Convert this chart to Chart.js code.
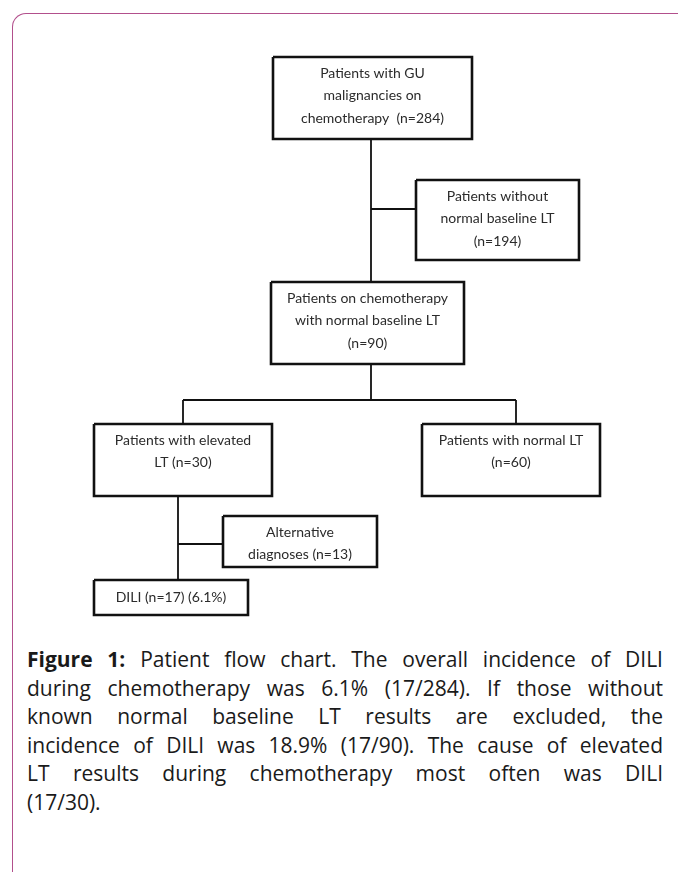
<!DOCTYPE html>
<html>
<head>
<meta charset="utf-8">
<script src="https://cdn.jsdelivr.net/npm/chart.js@4.4.1/dist/chart.umd.min.js"></script>
<style>
  html, body { margin: 0; padding: 0; background: #fff; }
  body { width: 678px; height: 872px; position: relative; overflow: hidden; font-family: "Open Sans", sans-serif; }
  .card { position: absolute; left: 12px; top: 13px; width: 720px; height: 900px;
          border-left: 1.5px solid #b24f8c; border-top: 1.5px solid #b24f8c; border-top-left-radius: 14px; }
  #wrap { position: absolute; left: 0; top: 0; width: 678px; height: 640px; }
  .caption { position: absolute; left: 27px; top: 645px; width: 636px; font-size: 21px; font-stretch: 91%;
             line-height: 28.6px; color: #1a1a1a; }
  .caption div { text-align: justify; text-align-last: justify; white-space: nowrap; }
  .caption div.last { text-align-last: left; }
</style>
</head>
<body>
<div class="card"></div>
<div id="wrap"><canvas id="flow"></canvas></div>
<div class="caption">
  <div><b>Figure 1:</b> Patient flow chart. The overall incidence of DILI</div>
  <div>during chemotherapy was 6.1% (17/284). If those without</div>
  <div>known normal baseline LT results are excluded, the</div>
  <div>incidence of DILI was 18.9% (17/90). The cause of elevated</div>
  <div>LT results during chemotherapy most often was DILI</div>
  <div class="last">(17/30).</div>
</div>
<script>
// node values
const nodeCounts = [284, 194, 90, 30, 60, 13, 17];
const diliShare = '6.1%';
const nodeLines = [
  ['Patients with GU', 'malignancies on', 'chemotherapy  (n=' + nodeCounts[0] + ')'],
  ['Patients without', 'normal baseline LT', '(n=' + nodeCounts[1] + ')'],
  ['Patients on chemotherapy', 'with normal baseline LT', '(n=' + nodeCounts[2] + ')'],
  ['Patients with elevated', 'LT (n=' + nodeCounts[3] + ')'],
  ['Patients with normal LT', '(n=' + nodeCounts[4] + ')'],
  ['Alternative', 'diagnoses (n=' + nodeCounts[5] + ')'],
  ['DILI (n=' + nodeCounts[6] + ') (' + diliShare + ')']
];

// layout: box left, top, right, bottom, first text line, line step
const boxes = [
  [273, 57, 472, 139, 73, 22.5],
  [416, 180, 579, 260, 196, 22.5],
  [271, 282, 464, 364, 298, 22.5],
  [94, 424, 272, 496, 440, 22],
  [422, 424, 600, 496, 440, 22],
  [223, 516, 377, 567, 532, 22],
  [94, 580, 248, 615, 597, 22]
];
const links = [
  [[371, 139], [371, 282]],
  [[371, 209], [416, 209]],
  [[371, 364], [371, 400]],
  [[183, 400], [516, 400]],
  [[183, 400], [183, 424]],
  [[516, 400], [516, 424]],
  [[178, 496], [178, 580]],
  [[178, 544], [223, 544]]
];

const datasets = [];
links.forEach(l => {
  datasets.push({
    data: l.map(p => ({x: p[0], y: p[1]})),
    showLine: true, borderColor: '#111', borderWidth: 1.8, pointRadius: 0
  });
});
boxes.forEach(b => {
  datasets.push({
    data: [{x: b[0], y: b[1]}, {x: b[2], y: b[1]}, {x: b[2], y: b[3]}, {x: b[0], y: b[3]}, {x: b[0], y: b[1]}],
    showLine: true, borderColor: '#111', borderWidth: 2.6, pointRadius: 0,
    backgroundColor: '#fff', fill: true, borderJoinStyle: 'miter'
  });
});

const boxText = {
  id: 'boxText',
  afterDatasetsDraw(chart) {
    const {ctx, scales: {x, y}} = chart;
    ctx.save();
    ctx.fillStyle = '#2b2b2b';
    ctx.font = '14px Lato';
    ctx.textAlign = 'center';
    ctx.textBaseline = 'middle';
    boxes.forEach((b, i) => {
      const cx = x.getPixelForValue((b[0] + b[2]) / 2);
      nodeLines[i].forEach((t, k) => {
        ctx.fillText(t, cx, y.getPixelForValue(b[4] + k * b[5]));
      });
    });
    ctx.restore();
  }
};

new Chart(document.getElementById('flow'), {
  type: 'scatter',
  data: {datasets: datasets},
  options: {
    responsive: true,
    maintainAspectRatio: false,
    animation: false,
    layout: {padding: 0},
    plugins: {legend: {display: false}, tooltip: {enabled: false}},
    scales: {
      x: {type: 'linear', min: 0, max: 678, display: false},
      y: {type: 'linear', min: 0, max: 640, reverse: true, display: false}
    }
  },
  plugins: [boxText]
});
</script>
</body>
</html>
